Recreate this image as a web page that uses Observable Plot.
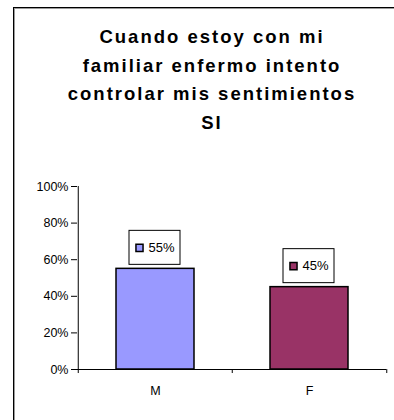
<!DOCTYPE html>
<html>
<head>
<meta charset="utf-8">
<script src="https://cdn.jsdelivr.net/npm/d3@7"></script>
<script src="https://cdn.jsdelivr.net/npm/@observablehq/plot@0.6"></script>
<style>
  html, body { margin: 0; background: #fff; font-family: "Liberation Sans", Arial, sans-serif; overflow: hidden; }
  #page { position: relative; width: 394px; height: 420px; overflow: hidden; background: #fff; }
  #frame { position: absolute; left: 13px; top: 7px; width: 381px; height: 413px; z-index: 2;
           border-left: 1px solid #000; border-top: 1px solid #000; box-sizing: border-box;
           box-shadow: inset 1px 1px 0 #9a9a9a; pointer-events: none; }
  #title { position: absolute; left: 14px; top: 0; width: 396px; text-align: center;
           font-weight: bold; font-size: 18.5px; line-height: 28.5px; padding-top: 23px;
           letter-spacing: 2px; color: #000; }
  #chart { position: absolute; left: 0; top: 160px; }
</style>
</head>
<body>
<div id="page">
  <div id="title"></div>
  <div id="chart"></div>
  <div id="frame"></div>
</div>
<script>
// Title lines
const titleLines = ["Cuando estoy con mi", "familiar enfermo intento", "controlar mis sentimientos", "SI"];

// Categories, values and bar colours
const categories = ["M", "F"];
const values = [0.55, 0.45];
const colors = ["#9999FF", "#993366"];
const yTicks = [0, 0.2, 0.4, 0.6, 0.8, 1];

const data = categories.map((c, i) => ({sexo: c, valor: values[i], color: colors[i]}));
const pct = d3.format(".0%");

const title = document.getElementById("title");
titleLines.forEach(t => {
  const div = document.createElement("div");
  div.textContent = t;
  title.appendChild(div);
});

const W = 394, H = 260, ml = 77, mr = 8, mt = 26, mb = 51;
const half = (W - ml - mr) / categories.length / 2;

const chart = Plot.plot({
  width: W, height: H,
  marginLeft: ml, marginRight: mr, marginTop: mt, marginBottom: mb,
  style: {fontFamily: "Liberation Sans, Arial, sans-serif", fontSize: "12.5px", color: "#000", background: "transparent"},
  x: {domain: categories, paddingInner: 0.495, paddingOuter: 0.2475, label: null},
  y: {domain: [0, 1], label: null},
  marks: [
    Plot.axisY({ticks: yTicks, tickFormat: pct, tickSize: 6, tickPadding: 3, label: null, stroke: "#000"}),
    Plot.axisX({tickSize: 0, tickPadding: 17, label: null}),
    Plot.barY(data, {x: "sexo", y: "valor", fill: "color", stroke: "#000", strokeWidth: 1.5}),
    // axis lines and category boundary ticks
    Plot.ruleY([0], {stroke: "#000"}),
    Plot.ruleX([categories[0]], {x: d => d, dx: -half, y1: 0, y2: 1, stroke: "#000"}),
    Plot.ruleX(categories, {x: d => d, dx: -half, y1: 0, y2: -0.022, stroke: "#000"}),
    Plot.ruleX([categories[categories.length - 1]], {x: d => d, dx: half, y1: 0, y2: -0.022, stroke: "#000"}),
    // value labels with legend key
    Plot.barY(data, {x: "sexo", y1: "valor", y2: "valor", insetTop: -38, insetBottom: 4,
                     insetLeft: 13, insetRight: 14, fill: "#fff", stroke: "#000", strokeWidth: 1}),
    Plot.dot(data, {x: "sexo", y: "valor", symbol: "square", r: 4, fill: "color",
                    stroke: "#000", strokeWidth: 1.5, dx: -16, dy: -21}),
    Plot.text(data, {x: "sexo", y: "valor", text: d => pct(d.valor), textAnchor: "start",
                     dx: -7, dy: -21, fontSize: 13, fill: "#000"})
  ]
});
document.getElementById("chart").appendChild(chart);
</script>
</body>
</html>
